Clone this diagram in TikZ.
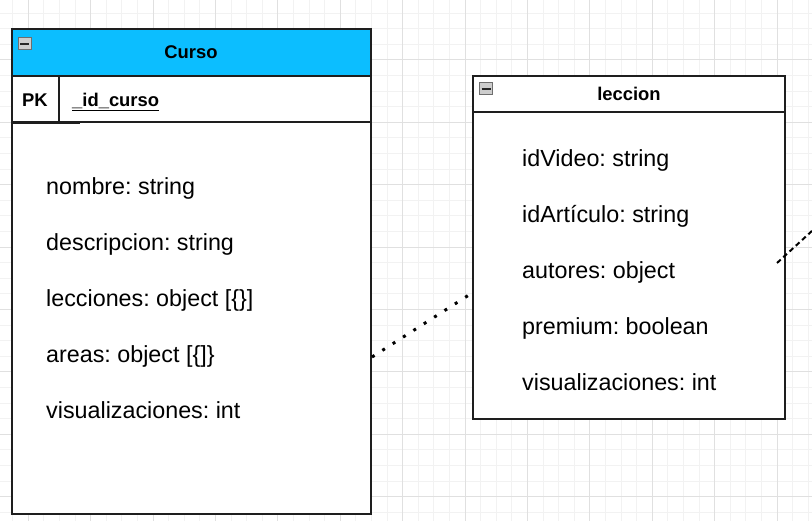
\documentclass[tikz,border=0pt]{standalone}
\usepackage{fontspec}
\setmainfont{Liberation Sans}
\usetikzlibrary{calc}
\frenchspacing
\definecolor{hdrcyan}{RGB}{12,190,255}
\definecolor{minorgrid}{RGB}{242,242,242}
\definecolor{majorgrid}{RGB}{224,224,224}
\definecolor{boxline}{RGB}{30,30,30}
\definecolor{iconfill}{RGB}{205,205,205}
\definecolor{iconline}{RGB}{110,110,110}
\tikzset{
  tablebox/.style={draw=boxline, line width=1.5pt, fill=white, inner sep=0pt, outer sep=0pt, anchor=north west},
  fieldtext/.style={anchor=base west, inner sep=0pt, font=\fontsize{23.3}{28}\selectfont},
  titletext/.style={anchor=base, inner sep=0pt, font=\fontsize{18.4}{22}\selectfont\bfseries},
  sepline/.style={draw=boxline, line width=1.5pt},
  minicon/.style={draw=iconline, fill=iconfill, line width=1.2pt, minimum width=13pt, minimum height=12pt, inner sep=0pt, anchor=north west},
  minusbar/.style={black!85, line width=2pt},
  dotconn/.style={line width=3pt, dash pattern=on 3pt off 9.3pt, line cap=butt},
  dashconn/.style={line width=2pt, dash pattern=on 5pt off 3.5pt},
}
\begin{document}
\begin{tikzpicture}[x=1pt,y=-1pt]
\useasboundingbox (0,0) rectangle (812,521);
\fill[white] (0,0) rectangle (812,521);
% grid
\foreach \k in {0,...,51} {
  \draw[minorgrid, line width=1pt] ({12.7+15.6*\k},0) -- ({12.7+15.6*\k},521);
}
\foreach \k in {1,...,33} {
  \draw[minorgrid, line width=1pt] (0,{-2.5+15.6*\k}) -- (812,{-2.5+15.6*\k});
}
\foreach \k in {0,...,12} {
  \draw[majorgrid, line width=1pt] ({28.3+62.4*\k},0) -- ({28.3+62.4*\k},521);
}
\foreach \k in {1,...,8} {
  \draw[majorgrid, line width=1pt] (0,{-2.5+62.4*\k}) -- (812,{-2.5+62.4*\k});
}

% Curso table
\node[tablebox, minimum width=359pt, minimum height=485pt] (curso) at (12,29) {};
\fill[hdrcyan] ($(curso.north west)+(0.75,0.75)$) rectangle (370.25,76);
\draw[sepline] (12,76) -- (371,76);
\draw[sepline] (12,122) -- (371,122);
\draw[boxline, line width=2.5pt] (12,122.5) -- (80,122.5);
\draw[sepline] (59,76) -- (59,122);
\draw[draw=boxline, line width=1.5pt] (curso.north west) rectangle (curso.south east);
\node[minicon] (icon1) at (17.5,37) {};
\draw[minusbar] ($(icon1.west)+(2.5,0)$) -- ($(icon1.east)+(-2.5,0)$);
\node[titletext] (cursotitle) at (191,59) {Curso};
\node[titletext] (pk) at (35,106.7) {PK};
\node[anchor=base west, inner sep=0pt, font=\fontsize{18.4}{22}\selectfont\bfseries] (idcurso) at (72,106.7) {\_id\_curso};
\draw[black, line width=1.5pt] (72,110.5) -- (159,110.5);
\node[fieldtext] (f1) at (46,195) {nombre: string};
\node[fieldtext] (f2) at (46,251) {descripcion: string};
\node[fieldtext] (f3) at (46,307) {lecciones: object [\{\}]};
\node[fieldtext] (f4) at (46,363) {areas: object [\{]\}};
\node[fieldtext] (f5) at (46,419) {visualizaciones: int};

% leccion table
\node[tablebox, minimum width=312pt, minimum height=343pt] (leccion) at (473,76) {};
\draw[sepline] (473,112) -- (785,112);
\node[minicon] (icon2) at (479,82) {};
\draw[minusbar] ($(icon2.west)+(2.5,0)$) -- ($(icon2.east)+(-2.5,0)$);
\node[titletext] (lectitle) at (629,100.7) {leccion};
\node[fieldtext] (g1) at (522,166.5) {idVideo: string};
\node[fieldtext] (g2) at (522,222.5) {idArtículo: string};
\node[fieldtext] (g3) at (522,278.5) {autores: object};
\node[fieldtext] (g4) at (522,334.5) {premium: boolean};
\node[fieldtext] (g5) at (522,390.5) {visualizaciones: int};

% connectors
\coordinate (ca) at (372,357);
\coordinate (cb) at (472,293);
\draw[dotconn] (ca) -- (cb);
\coordinate (da) at (777,263);
\coordinate (db) at (813,230);
\draw[dashconn] (da) -- (db);
\end{tikzpicture}
\end{document}
